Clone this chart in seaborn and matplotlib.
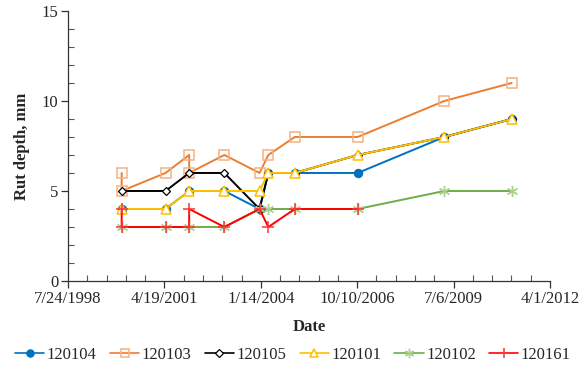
import matplotlib
matplotlib.use("Agg")
import matplotlib.pyplot as plt
import seaborn as sns
import pandas as pd
import numpy as np

sns.set_style("white")
plt.rcParams['font.family'] = ['Liberation Serif', 'DejaVu Serif']

# ---- data ----
d120104 = ["2000-02-01", "2001-05-01", "2002-01-01", "2003-01-01", "2004-01-01",
           "2004-04-01", "2005-01-01", "2006-10-15", "2009-04-01", "2011-03-01"]
v120104 = [4, 4, 5, 5, 4, 6, 6, 6, 8, 9]

d120103 = ["2000-02-01", "2000-02-01", "2001-05-01", "2002-01-01", "2002-01-01", "2003-01-01",
           "2004-01-01", "2004-04-01", "2005-01-01", "2006-10-15", "2009-04-01", "2011-03-01"]
v120103 = [6, 5, 6, 7, 6, 7, 6, 7, 8, 8, 10, 11]

d120105 = ["2000-02-01", "2001-05-01", "2002-01-01", "2003-01-01", "2004-01-01",
           "2004-04-01", "2005-01-01", "2006-10-15", "2009-04-01", "2011-03-01"]
v120105 = [5, 5, 6, 6, 4, 6, 6, 7, 8, 9]

d120101 = ["2000-02-01", "2001-05-01", "2002-01-01", "2003-01-01", "2004-01-01",
           "2004-04-01", "2005-01-01", "2006-10-15", "2009-04-01", "2011-03-01"]
v120101 = [4, 4, 5, 5, 5, 6, 6, 7, 8, 9]

d120102 = ["2000-02-01", "2001-05-01", "2002-01-01", "2003-01-01", "2004-01-01",
           "2004-04-01", "2005-01-01", "2006-10-15", "2009-04-01", "2011-03-01"]
v120102 = [3, 3, 3, 3, 4, 4, 4, 4, 5, 5]

d120161 = ["2000-02-01", "2000-02-01", "2001-05-01", "2002-01-01", "2002-01-01", "2003-01-01",
           "2004-01-01", "2004-04-01", "2005-01-01", "2006-10-15"]
v120161 = [4, 3, 3, 3, 4, 3, 4, 3, 4, 4]

x_ticks = ["1998-07-24", "2001-04-19", "2004-01-14", "2006-10-10", "2009-07-06", "2012-04-01"]

series = [
    ("120104", d120104, v120104, dict(color="#0070C0", marker="o", ms=6, mfc="#0070C0", mec="#0070C0")),
    ("120103", d120103, v120103, dict(color="#ED7D31", marker="s", ms=6.5, mfc="none", mec="#F4B183", mew=1.1)),
    ("120105", d120105, v120105, dict(color="#000000", marker="D", ms=4.5, mfc="white", mec="#000000", mew=0.9)),
    ("120101", d120101, v120101, dict(color="#FFC000", marker="^", ms=6.5, mfc="white", mec="#FFC000", mew=1.1)),
    ("120102", d120102, v120102, dict(color="#70AD47", marker=(6, 2, 0), ms=8, mfc="none", mec="#A9D18E", mew=1.0)),
    ("120161", d120161, v120161, dict(color="#FF0000", marker="+", ms=8, mfc="none", mec="#FF3333", mew=1.1)),
]

fig = plt.figure(figsize=(5.86, 3.77), dpi=100)
ax = fig.add_axes([0.116, 0.2546, 0.8226, 0.7164])

handles = []
for name, dates, vals, st in series:
    df = pd.DataFrame({"date": pd.to_datetime(dates), "val": vals})
    sns.lineplot(data=df, x="date", y="val", sort=False, ax=ax, lw=1.4,
                 estimator=None, **st)
    h = plt.Line2D([], [], lw=1.2, **st)
    handles.append(h)

ax.set_ylim(0, 15)
ax.set_xlim(pd.Timestamp(x_ticks[0]), pd.Timestamp(x_ticks[-1]))
ticks = pd.to_datetime(x_ticks)
ax.set_xticks(ticks)
ax.set_xticklabels([f"{t.month}/{t.day}/{t.year}" for t in ticks])
minor = pd.date_range(ticks[0], ticks[-1], freq="200D")
ax.set_xticks(minor, minor=True)
ax.set_yticks([0, 5, 10, 15])
ax.set_yticks(np.arange(0, 16, 1), minor=True)

for s in ["top", "right"]:
    ax.spines[s].set_visible(False)
for s in ["left", "bottom"]:
    ax.spines[s].set_color("#333333")
    ax.spines[s].set_linewidth(0.9)

ax.tick_params(axis="both", which="major", direction="out", length=5, width=0.9,
               color="#333333", labelsize=12, pad=2, left=True, bottom=True)
ax.tick_params(axis="both", which="minor", direction="in", length=4, width=0.8,
               color="#555555", left=True, bottom=True)

ax.set_xlabel("Date", fontsize=12, fontweight="bold", labelpad=9)
ax.set_ylabel("Rut depth, mm", fontsize=12, fontweight="bold", labelpad=8)

fig.legend(handles, [s[0] for s in series], loc="center", bbox_to_anchor=(0.5, 0.058),
           ncol=6, frameon=False, fontsize=12, handlelength=1.75, handletextpad=0.15,
           columnspacing=0.8, markerscale=0.85, borderaxespad=0, borderpad=0)

fig.savefig("out.png", dpi=100)
